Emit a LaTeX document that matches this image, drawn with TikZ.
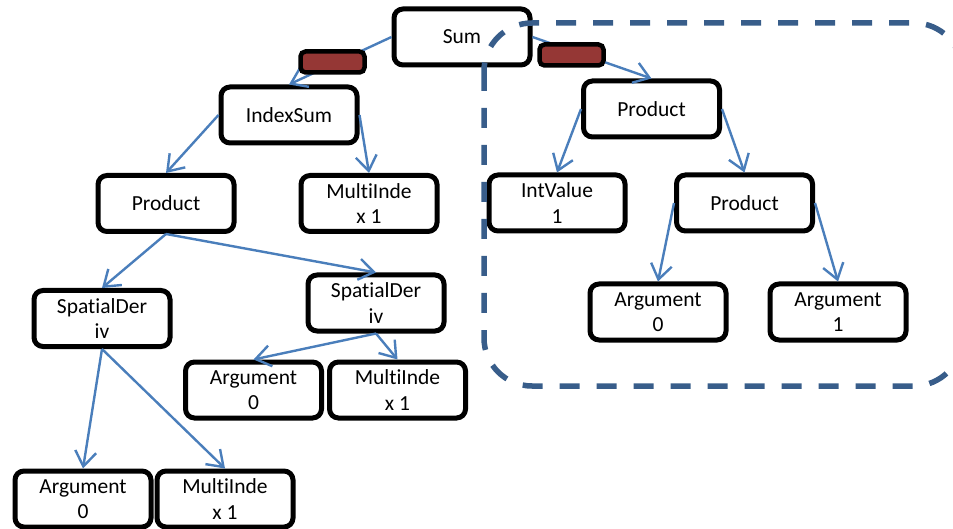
\documentclass[tikz,border=0pt]{standalone}
\usepackage{fontspec}
\setmainfont{Carlito}[Ligatures=NoCommon]
\usetikzlibrary{arrows.meta}
\definecolor{edgeblue}{HTML}{4A7EBB}
\definecolor{groupblue}{HTML}{385D8A}
\definecolor{tagred}{HTML}{953735}
\begin{document}
\begin{tikzpicture}[x=1pt,y=-1pt,
  term/.style={draw=black, line width=5pt, rounded corners=9pt, fill=white,
    minimum width=136pt, minimum height=56pt, inner sep=0pt, align=center,
    font=\fontsize{21.5}{25.5}\selectfont, text=black},
  tag/.style={draw=black, line width=4.5pt, rounded corners=5pt, fill=tagred,
    minimum width=64pt, minimum height=21pt, inner sep=0pt},
  link/.style={draw=edgeblue, line width=2.4pt,
    -{Straight Barb[length=15pt,width=21pt]}},
  group/.style={draw=groupblue, line width=5.5pt, dash pattern=on 20pt off 17pt,
    rounded corners=48pt}
]
\useasboundingbox (0,0) rectangle (953,529);

% expression tree nodes
\node[term] (sum)   at (462,37)    {Sum};
\node[term] (isum)  at (289,115)   {IndexSum};
\node[term] (prodL) at (166,203.5) {Product};
\node[term] (miA)   at (369,203.5) {MultiInde\\x 1};
\node[term] (sdL)   at (102,318.5) {SpatialDer\\iv};
\node[term] (sdR)   at (376,303)   {SpatialDer\\iv};
\node[term] (argA)  at (253.5,390) {Argument\\0};
\node[term] (miB)   at (397.5,390) {MultiInde\\x 1};
\node[term] (argB)  at (83,499)    {Argument\\0};
\node[term] (miC)   at (225,499)   {MultiInde\\x 1};
\node[term] (prodR) at (651.5,109) {Product};
\node[term] (ival)  at (557,203)   {IntValue\\1};
\node[term] (prodM) at (744.5,203) {Product};
\node[term] (argC)  at (658,312)   {Argument\\0};
\node[term] (argD)  at (838,312)   {Argument\\1};

% parent -> child links
\draw[link] (sum.west)    -- (isum.north);
\draw[link] (sum.east)    -- (prodR.north);
\draw[link] (isum.west)   -- (prodL.north);
\draw[link] (isum.east)   -- (miA.north);
\draw[link] (prodL.south) -- (sdL.north);
\draw[link] (prodL.south) -- (sdR.north);
\draw[link] (sdL.south)   -- (argB.north);
\draw[link] (sdL.south)   -- (miC.north);
\draw[link] (sdR.south)   -- (argA.north);
\draw[link] (sdR.south)   -- (miB.north);
\draw[link] (prodR.west)  -- (ival.north);
\draw[link] (prodR.east)  -- (prodM.north);
\draw[link] (prodM.west)  -- (argC.north);
\draw[link] (prodM.east)  -- (argD.north);

% markers on the two edges out of Sum
\node[tag] (tagL) at (332.5,62) {};
\node[tag] (tagR) at (571.5,55) {};

% dashed outline around the right-hand subtree
\coordinate (gNW) at (484,23);
\coordinate (gSE) at (962,386);
\draw[group] (gNW) rectangle (gSE);
\end{tikzpicture}
\end{document}
